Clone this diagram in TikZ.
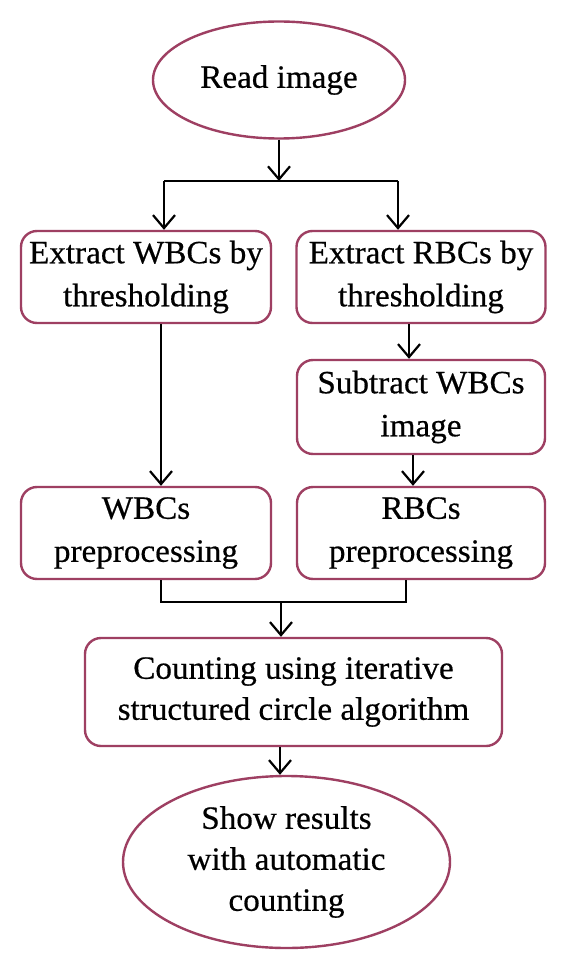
\documentclass[tikz,border=0pt]{standalone}
\usepackage{fontspec}
\setmainfont{Liberation Serif}[FakeStretch=1.02,FakeBold=0.5]
\usetikzlibrary{shapes.geometric,arrows.meta}
\definecolor{frame}{HTML}{9E3F62}
\begin{document}
\begin{tikzpicture}[x=1pt,y=-1pt,
  txt/.style={align=center,font=\fontsize{32.5}{43}\selectfont,inner sep=0pt},
  box/.style={txt,draw=frame,line width=2.4pt,rounded corners=16pt},
  oval/.style={txt,draw=frame,line width=2.4pt,ellipse},
  arr/.style={-{Straight Barb[length=13pt,width=22pt,line width=2.2pt]},line width=2.2pt},
  ln/.style={line width=2.2pt}]
\useasboundingbox[fill=white] (0,0) rectangle (566,968);
\node[oval,minimum width=252pt,minimum height=117pt] (read) at (279,80) {Read image};
\node[box,minimum width=250pt,minimum height=92pt] (ewbc) at (146,277) {Extract WBCs by\\thresholding};
\node[box,minimum width=249pt,minimum height=92pt] (erbc) at (421,277) {Extract RBCs by\\thresholding};
\node[box,minimum width=248pt,minimum height=94pt] (sub) at (421,407) {Subtract WBCs\\image};
\node[box,minimum width=250pt,minimum height=92pt] (wpre) at (146,533) {WBCs\\preprocessing};
\node[box,minimum width=248pt,minimum height=92pt] (rpre) at (421,533) {RBCs\\preprocessing};
\node[box,minimum width=417pt,minimum height=108pt,font=\fontsize{32.5}{41}\selectfont] (count) at (293.5,692) {Counting using iterative\\structured circle algorithm};
\node[oval,minimum width=327pt,minimum height=172pt,font=\fontsize{32.5}{41}\selectfont] (show) at (286.5,862) {Show results\\with automatic\\counting};
\coordinate (j1) at (279,181);
\coordinate (jl) at (164,181);
\coordinate (jr) at (398,181);
\coordinate (b1) at (161,602);
\coordinate (b2) at (406,602);
\coordinate (bm) at (281,602);
\draw[arr] (read.south) -- (j1);
\draw[ln] (jl) -- (jr);
\draw[arr] (jl) -- (jl |- ewbc.north);
\draw[arr] (jr) -- (jr |- erbc.north);
\draw[arr] (ewbc.south -| 161,0) -- (wpre.north -| 161,0);
\draw[arr] (erbc.south -| 409,0) -- (sub.north -| 409,0);
\draw[arr] (sub.south -| 413,0) -- (rpre.north -| 413,0);
\draw[ln] (wpre.south -| b1) -- (b1) -- (b2) -- (rpre.south -| b2);
\draw[arr] (bm) -- (bm |- count.north);
\draw[arr] (count.south -| 280,0) -- (show.north -| 280,0);
\end{tikzpicture}
\end{document}
